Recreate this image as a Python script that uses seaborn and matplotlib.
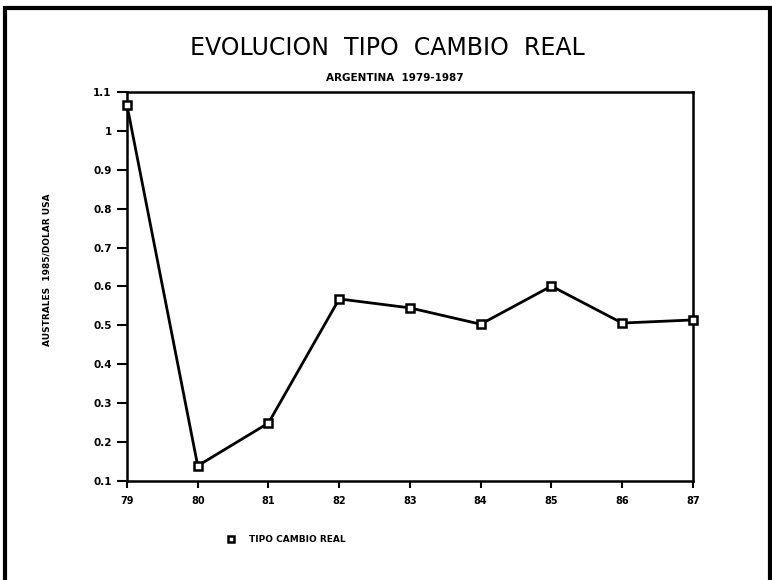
import numpy as np
import pandas as pd
import matplotlib.pyplot as plt
import seaborn as sns
from matplotlib.lines import Line2D
from matplotlib.patches import Rectangle

# ==== datos ====
years = [79, 80, 81, 82, 83, 84, 85, 86, 87]
tipo_cambio = [1.066, 0.139, 0.249, 0.568, 0.545, 0.503, 0.601, 0.506, 0.514]
y_ticks = [0.1, 0.2, 0.3, 0.4, 0.5, 0.6, 0.7, 0.8, 0.9, 1.0, 1.1]
y_labels = ["0.1", "0.2", "0.3", "0.4", "0.5", "0.6", "0.7", "0.8", "0.9", "1", "1.1"]

df = pd.DataFrame({"year": years, "valor": tipo_cambio})

sns.set_style("ticks")
plt.rcParams['font.family'] = ['DejaVu Sans']
plt.rcParams['text.color'] = 'black'
plt.rcParams['xtick.color'] = 'black'
plt.rcParams['ytick.color'] = 'black'

fig = plt.figure(figsize=(7.72, 5.80), dpi=100)
ax = fig.add_axes([0.1645, 0.1707, 0.733, 0.6707])

sns.lineplot(df, x="year", y="valor", ax=ax, color="black", linewidth=2.0,
             marker="s", markersize=6, markerfacecolor="white",
             markeredgecolor="black", markeredgewidth=1.8, clip_on=False, zorder=5)

ax.set_xlim(79, 87)
ax.set_ylim(0.1, 1.1)
ax.set_xticks(years)
ax.set_xticklabels([str(y) for y in years], fontsize=7, fontweight="bold")
ax.set_yticks(y_ticks)
ax.set_yticklabels(y_labels, fontsize=7.5, fontweight="bold")
ax.tick_params(axis="y", direction="out", length=7, width=1.5, pad=4)
ax.tick_params(axis="x", direction="out", length=5, width=1.5, pad=6)
for s in ax.spines.values():
    s.set_linewidth(1.8)
    s.set_color("black")
ax.set_xlabel("")
ax.set_ylabel("")

# ==== textos ====
fig.text(0.502, 0.917, "EVOLUCION  TIPO  CAMBIO  REAL", ha="center", va="center",
         fontsize=17, color="black")
fig.text(0.512, 0.866, "ARGENTINA  1979-1987", ha="center", va="center",
         fontsize=7.5, fontweight="bold")
fig.text(0.061, 0.535, "AUSTRALES  1985/DOLAR USA", ha="center", va="center",
         rotation=90, fontsize=6.5, fontweight="bold")

# ==== leyenda ====
handle = Line2D([], [], marker="s", linestyle="none", markersize=5,
                markerfacecolor="white", markeredgecolor="black", markeredgewidth=1.8)
fig.legend(handles=[handle], labels=["TIPO CAMBIO REAL"], loc="center left",
           bbox_to_anchor=(0.277, 0.069), frameon=False,
           prop={"size": 6.5, "weight": "bold"}, handletextpad=1.0)

# ==== marco exterior ====
fig.patches.append(Rectangle((0.007, -0.02), 0.990, 1.006, transform=fig.transFigure,
                             fill=False, edgecolor="black", linewidth=3))

plt.savefig("out.png", dpi=100)
plt.close(fig)
